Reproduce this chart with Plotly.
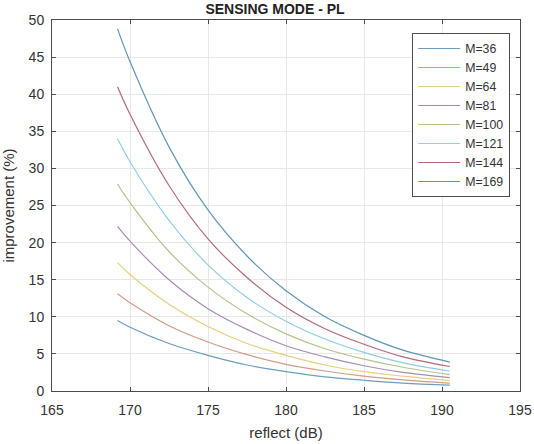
import plotly.graph_objects as go

x_db = [169.2, 170.0, 172.5, 175.0, 177.5, 180.0, 182.5, 185.0, 187.5, 190.5]
labels = ["M=36", "M=49", "M=64", "M=81", "M=100", "M=121", "M=144", "M=169"]
m36 = [9.5, 8.6, 6.4, 4.8, 3.5, 2.6, 1.9, 1.45, 1.07, 0.78]
m49 = [13.1, 11.9, 8.8, 6.6, 4.9, 3.6, 2.7, 2.0, 1.5, 1.05]
m64 = [17.3, 15.7, 11.7, 8.7, 6.4, 4.8, 3.5, 2.6, 2.0, 1.4]
m81 = [22.2, 20.2, 15.0, 11.1, 8.3, 6.1, 4.6, 3.4, 2.5, 1.8]
m100 = [27.9, 25.4, 18.8, 14.0, 10.4, 7.7, 5.7, 4.3, 3.2, 2.2]
m121 = [34.0, 30.9, 23.0, 17.0, 12.6, 9.4, 7.0, 5.2, 3.8, 2.7]
m144 = [41.0, 37.3, 27.7, 20.5, 15.3, 11.3, 8.4, 6.3, 4.6, 3.3]
m169 = [48.8, 44.4, 32.9, 24.4, 18.2, 13.5, 10.0, 7.5, 5.5, 3.9]
series = [m36, m49, m64, m81, m100, m121, m144, m169]
colors = ["#6a9fc0", "#d29b86", "#e6cf82", "#a88db3", "#b3c48c", "#8ccfe8", "#b06b7a", "#5f96b8"]

fig = go.Figure()
for lab, ys, c in zip(labels, series, colors):
    fig.add_trace(go.Scatter(x=x_db, y=ys, mode="lines", name=lab,
                             line=dict(color=c, width=1.2, shape="spline")))

axis_common = dict(
    showline=True, linecolor="#4d4d4d", linewidth=1, mirror="ticks",
    ticks="inside", ticklen=4, tickcolor="#4d4d4d",
    showgrid=True, gridcolor="#e8e8e8", gridwidth=1, zeroline=False,
    automargin=False,
    tickfont=dict(family="Liberation Sans, Arial", size=14, color="#333333"),
    title_font=dict(family="Liberation Sans, Arial", size=15, color="#333333"),
)

fig.update_layout(
    width=534, height=444,
    margin=dict(l=52, r=14, t=20, b=53),
    paper_bgcolor="white", plot_bgcolor="white",
    title=dict(text="<b>SENSING MODE - PL</b>", x=0.515, xanchor="center",
               y=0.98, yanchor="middle", automargin=False,
               font=dict(family="Liberation Sans, Arial", size=14, color="#222222")),
    xaxis=dict(range=[165, 195], dtick=5, ticklabelstandoff=6,
               title=dict(text="reflect (dB)", standoff=10), **axis_common),
    yaxis=dict(range=[0, 50], dtick=5, ticklabelstandoff=4,
               title=dict(text="improvement (%)", standoff=10), **axis_common),
    legend=dict(x=0.979, y=0.965, xanchor="right", yanchor="top",
                bgcolor="white", bordercolor="#4d4d4d", borderwidth=1,
                itemwidth=42,
                font=dict(family="Liberation Sans, Arial", size=12.3, color="#333333"),
                tracegroupgap=0),
    showlegend=True,
)

fig.write_html("out.html")
